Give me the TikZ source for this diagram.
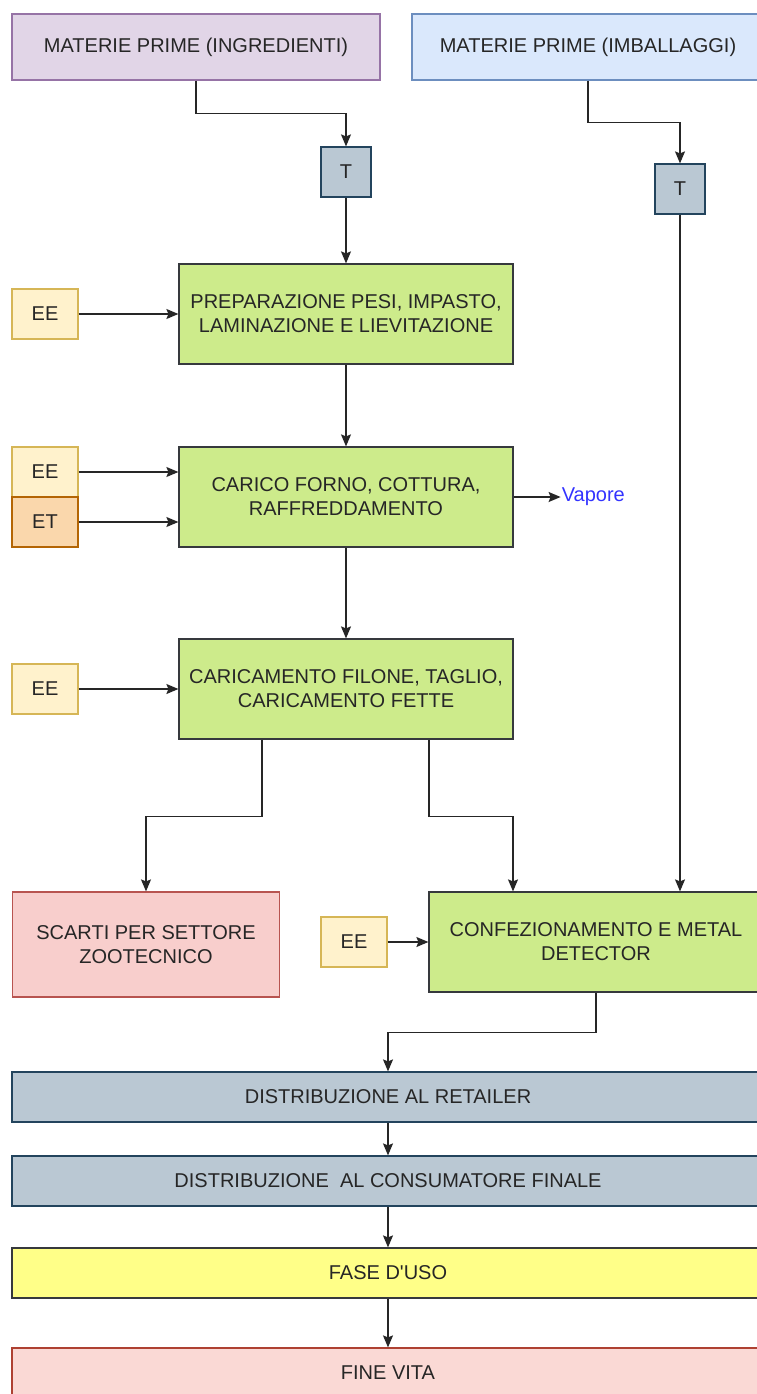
\documentclass[tikz,border=0pt]{standalone}
\usepackage{fontspec}
\setmainfont{Liberation Sans}
\usetikzlibrary{arrows.meta,positioning,shapes}
\definecolor{ingrfill}{HTML}{E1D5E7}
\definecolor{ingrline}{HTML}{9673A6}
\definecolor{imbfill}{HTML}{DAE8FC}
\definecolor{imbline}{HTML}{6C8EBF}
\definecolor{tfill}{HTML}{BAC8D3}
\definecolor{tline}{HTML}{23445D}
\definecolor{stepfill}{HTML}{CDEB8B}
\definecolor{stepline}{HTML}{36393D}
\definecolor{eefill}{HTML}{FFF2CC}
\definecolor{eeline}{HTML}{D6B656}
\definecolor{etfill}{HTML}{FAD7AC}
\definecolor{etline}{HTML}{B46504}
\definecolor{scartifill}{HTML}{F8CECC}
\definecolor{scartiline}{HTML}{B85450}
\definecolor{fasefill}{HTML}{FFFF88}
\definecolor{finefill}{HTML}{FAD9D5}
\definecolor{fineline}{HTML}{AE4132}
\definecolor{vaporcolor}{HTML}{3333FF}
\tikzset{
    %Define standard arrow tip
    >={Stealth[length=12pt, width=10pt, inset=2pt]},
    %Define style for boxes
    basenode/.style={
             rectangle,
             line width=1.2pt,
             inner sep=2pt,
             align=center,
             text=black!85},
    rawnode/.style={
             basenode,
             minimum height=66pt},
    tnode/.style={
             basenode,
             fill=tfill, draw=tline,
             minimum width=50pt, minimum height=50pt},
    stepnode/.style={
             basenode,
             fill=stepfill, draw=stepline,
             minimum width=334pt, minimum height=100pt},
    eenode/.style={
             basenode,
             fill=eefill, draw=eeline,
             minimum width=66pt, minimum height=50pt},
    etnode/.style={
             basenode,
             fill=etfill, draw=etline,
             minimum width=66pt, minimum height=50pt},
    barnode/.style={
             basenode,
             minimum width=752pt, minimum height=50pt},
    % Define arrow style
    flowarrow/.style={
            ->,
            line width=1.3pt,
            draw=black!85}
}
\begin{document}
\begin{tikzpicture}[x=1pt, y=-1pt, font=\fontsize{20}{24}\selectfont]
 \path[use as bounding box, clip] (0,0) rectangle (757,1394);
 \node[rawnode, fill=ingrfill, draw=ingrline, minimum width=368pt] (ingr) at (196,47) {MATERIE PRIME (INGREDIENTI)};
 \node[rawnode, fill=imbfill, draw=imbline, minimum width=352pt] (imb) at (588,47) {MATERIE PRIME (IMBALLAGGI)};
 \node[tnode] (t1) at (346,172) {T};
 \node[tnode] (t2) at (680,189) {T};
 % main process steps
 \node[stepnode] (prep) at (346,314) {PREPARAZIONE PESI, IMPASTO,\\LAMINAZIONE E LIEVITAZIONE};
 \node[stepnode] (forno) at (346,497) {CARICO FORNO, COTTURA,\\RAFFREDDAMENTO};
 \node[stepnode] (filone) at (346,689) {CARICAMENTO FILONE, TAGLIO,\\CARICAMENTO FETTE};
 \node[stepnode] (conf) at (596,942) {CONFEZIONAMENTO E METAL\\DETECTOR};
 \node[basenode, fill=scartifill, draw=scartiline, minimum width=267pt, minimum height=105pt] (scarti) at (146,944.5) {SCARTI PER SETTORE\\ZOOTECNICO};
 % energy inputs
 \node[eenode] (ee1) at (45,314) {EE};
 \node[eenode] (ee2) at (45,472) {EE};
 \node[etnode, below=-1.2pt of ee2] (et) {ET};
 \node[eenode] (ee3) at (45,689) {EE};
 \node[eenode] (ee4) at (354,942) {EE};
 \node[right=47pt of forno, inner sep=1pt, text=vaporcolor] (vapore) {Vapore};
 % downstream phases
 \node[barnode, fill=tfill, draw=tline] (dist1) at (388,1097) {DISTRIBUZIONE AL RETAILER};
 \node[barnode, fill=tfill, draw=tline] (dist2) at (388,1181) {DISTRIBUZIONE\ \ AL CONSUMATORE FINALE};
 \node[barnode, fill=fasefill, draw=stepline] (fase) at (388,1273) {FASE D\textquotesingle USO};
 \node[barnode, fill=finefill, draw=fineline] (fine) at (388,1373) {FINE VITA};
 \draw[flowarrow] (ingr.south) -- ++(0,33) -| (t1.north);
 \draw[flowarrow] (imb.south) -- ++(0,42) -| (t2.north);
 \draw[flowarrow] (t1) -- (prep);
 \draw[flowarrow] (prep) -- (forno);
 \draw[flowarrow] (forno) -- (filone);
 \draw[flowarrow] (ee1) -- (prep);
 \draw[flowarrow] (ee2.east) -- (ee2.east -| forno.west);
 \draw[flowarrow] (et.east) -- (et.east -| forno.west);
 \draw[flowarrow] (forno) -- (vapore);
 \draw[flowarrow] (ee3) -- (filone);
 \draw[flowarrow] ([xshift=-84pt]filone.south) -- ++(0,77) -| (scarti.north);
 \draw[flowarrow] ([xshift=83pt]filone.south) -- ++(0,77) -| ([xshift=-83pt]conf.north);
 \draw[flowarrow] (t2) -- (t2 |- conf.north);
 \draw[flowarrow] (ee4) -- (conf);
 \draw[flowarrow] (conf.south) -- ++(0,40) -| (dist1.north);
 \draw[flowarrow] (dist1) -- (dist2);
 \draw[flowarrow] (dist2) -- (fase);
 \draw[flowarrow] (fase) -- (fine);
\end{tikzpicture}
\end{document}
